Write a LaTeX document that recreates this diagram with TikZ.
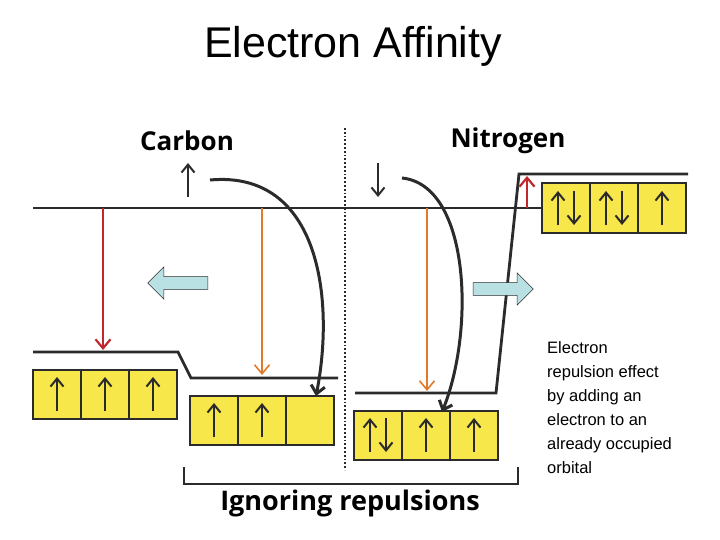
\documentclass[tikz,border=0pt]{standalone}
\usepackage{fontspec}
\setmainfont{Liberation Sans}
\newfontfamily\boldf{Open Sans}
\usetikzlibrary{arrows.meta,shapes.arrows}
\definecolor{cellY}{HTML}{F8E74A}
\definecolor{lev}{HTML}{2B2B2B}
\definecolor{redA}{HTML}{C0282D}
\definecolor{orA}{HTML}{E07B2C}
\definecolor{blueA}{HTML}{B9E1E4}
\tikzset{
  cellbox/.style={draw=lev,line width=2pt,fill=cellY,minimum width=48pt,minimum height=49pt,inner sep=0pt,outer sep=0pt},
  level/.style={draw=lev,line width=2.8pt},
  spin/.style={draw=lev,line width=2pt,-{Straight Barb[length=8pt,width=13pt,line width=2pt]}},
  curv/.style={draw=lev,line width=3pt,-{Straight Barb[length=8pt,width=14pt]}},
  redar/.style={draw=redA,line width=2.2pt,-{Straight Barb[length=9pt,width=15pt]}},
  orar/.style={draw=orA,line width=1.6pt,-{Straight Barb[length=9pt,width=15pt]}},
  fat/.style={single arrow,draw=lev,line width=0.6pt,fill=blueA,minimum height=60pt,minimum width=32pt,single arrow head extend=5pt,inner sep=3pt},
}
\newcommand{\mycell}[4]{% name, x, y(center), type
  \node[cellbox] (#1) at (#2,#3) {};
  \ifcase#4\or
    \draw[spin] ([yshift=-17pt]#1.center) -- ([yshift=17pt]#1.center);
  \or
    \draw[spin] ([xshift=-8pt,yshift=-17pt]#1.center) -- ([xshift=-8pt,yshift=17pt]#1.center);
    \draw[spin] ([xshift=8pt,yshift=17pt]#1.center) -- ([xshift=8pt,yshift=-17pt]#1.center);
  \fi}
\begin{document}
\begin{tikzpicture}[x=1pt,y=-1pt]
\useasboundingbox (0,0) rectangle (720,540);
\node (title) at (353,46) {\fontsize{43}{48}\selectfont Electron Affinity};
\node (carbon) at (187,141) {\boldf\bfseries\fontsize{26}{30}\selectfont Carbon};
\node (nitrogen) at (508,141) {\boldf\bfseries\fontsize{26}{30}\selectfont Nitrogen};
\draw[lev,line width=1.8pt,dotted] (345,128) -- (345,470);
% levels
\coordinate (t0) at (33,208); \coordinate (t1) at (542,208);
\draw[level] (t0) -- (t1);
\coordinate (c0) at (33,352); \coordinate (c1) at (178,352); \coordinate (c2) at (191,378); \coordinate (c3) at (338,378);
\draw[level] (c0) -- (c1) -- (c2) -- (c3);
\coordinate (n0) at (355,393); \coordinate (n1) at (496,393); \coordinate (n2) at (519,174); \coordinate (n3) at (688,174);
\draw[level] (n0) -- (n1) -- (n2) -- (n3);
% cells
\foreach \i/\x in {1/57,2/105,3/153}{\mycell{ca\i}{\x}{394}{1}}
\mycell{cb1}{214}{420}{1}\mycell{cb2}{262}{420}{1}\mycell{cb3}{310}{420}{0}
\mycell{na1}{378}{435}{2}\mycell{na2}{426}{435}{1}\mycell{na3}{474}{435}{1}
\mycell{nb1}{566}{208}{2}\mycell{nb2}{614}{208}{2}\mycell{nb3}{662}{208}{1}
% drop arrows
\coordinate (r0) at (103,208); \coordinate (r1) at (103,350);
\draw[redar] (r0) -- (r1);
\coordinate (o0) at (262,208); \coordinate (o1) at (262,375);
\draw[orar] (o0) -- (o1);
\coordinate (o2) at (427,208); \coordinate (o3) at (427,391);
\draw[orar] (o2) -- (o3);
\coordinate (r2) at (527,208); \coordinate (r3) at (527,176);
\draw[redar] (r2) -- (r3);
% free electrons
\coordinate (e0) at (188,197); \coordinate (e1) at (188,163);
\draw[spin] (e0) -- (e1);
\coordinate (e2) at (378,163); \coordinate (e3) at (378,197);
\draw[spin] (e2) -- (e3);
% curved arrows
\coordinate (k0) at (210,180); \coordinate (k1) at (316,396);
\draw[curv] (k0) .. controls (320,170) and (335,300) .. (k1);
\coordinate (k2) at (402,178); \coordinate (k3) at (442,412);
\draw[curv] (k2) .. controls (470,185) and (475,330) .. (k3);
% fat arrows
\node[fat,shape border rotate=180] (fl) at (181,283) {};
\node[fat] (fr) at (500,289) {};
% bracket
\coordinate (b0) at (184,467); \coordinate (b1) at (184,484); \coordinate (b2) at (518,484); \coordinate (b3) at (518,467);
\draw[level] (b0) -- (b1) -- (b2) -- (b3);
\node (ign) at (350,503) {\boldf\bfseries\fontsize{27}{30}\selectfont Ignoring repulsions};
\node[anchor=north west,align=left,inner sep=0pt,font=\fontsize{16.5}{24}\selectfont] (note) at (547,341) {Electron\\repulsion effect\\by adding an\\electron to an\\already occupied\\orbital};
\end{tikzpicture}
\end{document}
